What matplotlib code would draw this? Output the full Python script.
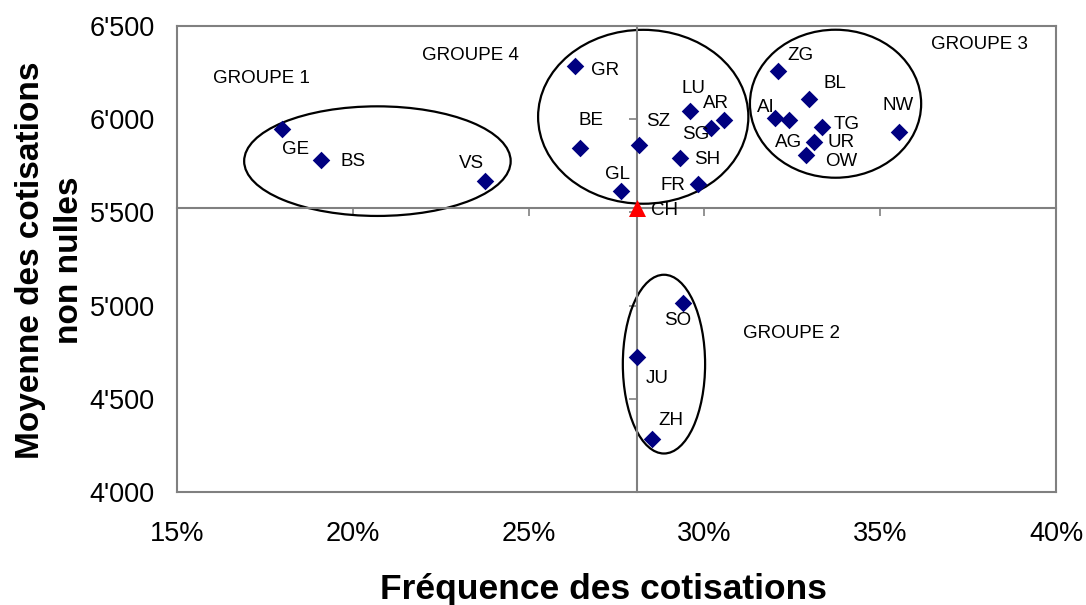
import matplotlib
matplotlib.use("Agg")
import matplotlib.pyplot as plt
from matplotlib.patches import Ellipse
from matplotlib.ticker import FuncFormatter, MultipleLocator

plt.rcParams['font.family'] = ['Liberation Sans', 'DejaVu Sans']

# data
cantons = ['GE', 'BS', 'VS', 'GR', 'BE', 'SZ', 'GL', 'LU', 'SG', 'AR', 'SH', 'FR',
           'ZG', 'BL', 'AI', 'AG', 'TG', 'UR', 'OW', 'NW', 'SO', 'JU', 'ZH']
frequence = [0.1798, 0.1909, 0.2377, 0.2632, 0.2646, 0.2814, 0.2764, 0.2960, 0.3020,
             0.3056, 0.2931, 0.2982, 0.3210, 0.3297, 0.3201, 0.3240, 0.3334, 0.3313,
             0.3289, 0.3554, 0.2940, 0.2808, 0.2852]
moyenne = [5945, 5779, 5668, 6287, 5847, 5861, 5615, 6043, 5953, 5998, 5793, 5651,
           6257, 6109, 6007, 5998, 5959, 5879, 5807, 5932, 5012, 4724, 4285]
ch_frequence = 0.2808
ch_moyenne = 5526

# label offsets in pixels (dx right, dy down)
label_offsets = {
    'GE': (14, 20), 'BS': (32, 1), 'VS': (-14, -18), 'GR': (30, 5), 'BE': (11, -27),
    'SZ': (19, -24), 'GL': (-4, -16), 'LU': (3, -23), 'SG': (-16, 7), 'AR': (-8, -16),
    'SH': (27, 2), 'FR': (-25, 1), 'ZG': (22, -16), 'BL': (26, -15), 'AI': (-9, -10),
    'AG': (0, 23), 'TG': (25, -2), 'UR': (27, 1), 'OW': (35, 6), 'NW': (-1, -26),
    'SO': (-6, 17), 'JU': (20, 21), 'ZH': (19, -18), 'CH': (28, 3),
}

# groups: label, label position, ellipse centre and size
groupes = ['GROUPE 1', 'GROUPE 4', 'GROUPE 3', 'GROUPE 2']
groupe_label_xy = [(0.1603, 6221), (0.2197, 6342), (0.3645, 6399), (0.3109, 4849)]
groupe_centres = [(0.2070, 5775), (0.2826, 6013), (0.3373, 6083), (0.2885, 4686)]
groupe_sizes = [(0.0758, 588), (0.0598, 933), (0.0487, 794), (0.0234, 959)]

fig = plt.figure(figsize=(10.86, 6.05), dpi=100)
rect = [177 / 1086, 1 - 492 / 605, (1056 - 177) / 1086, (492 - 26) / 605]
ax = fig.add_axes(rect)

ax.set_xlim(0.15, 0.40)
ax.set_ylim(4000, 6500)
ax.xaxis.set_major_locator(MultipleLocator(0.05))
ax.yaxis.set_major_locator(MultipleLocator(500))
ax.xaxis.set_major_formatter(FuncFormatter(lambda v, p: f"{v * 100:.0f}%"))
ax.yaxis.set_major_formatter(FuncFormatter(lambda v, p: f"{v:,.0f}".replace(',', "'")))
ax.tick_params(length=0, labelsize=19.5)
ax.tick_params(axis='y', pad=16)
ax.tick_params(axis='x', pad=21)
for s in ax.spines.values():
    s.set_color('#808080')
    s.set_linewidth(1.5)

# crossing axes through CH with tick marks
ax2 = fig.add_axes(rect, sharex=ax, sharey=ax)
ax2.patch.set_visible(False)
ax2.spines['top'].set_visible(False)
ax2.spines['right'].set_visible(False)
ax2.spines['left'].set_position(('data', ch_frequence))
ax2.spines['bottom'].set_position(('data', ch_moyenne))
for side in ['left', 'bottom']:
    ax2.spines[side].set_color('#808080')
    ax2.spines[side].set_linewidth(1.5)
ax2.tick_params(labelleft=False, labelbottom=False, direction='out', length=5.5,
                width=1.2, color='#808080')

ax2.scatter(frequence, moyenne, marker='D', s=80, color='#000080', zorder=3,
            linewidths=0)
ax2.scatter([ch_frequence], [ch_moyenne], marker='^', s=150, color='#ff0000',
            zorder=4, linewidths=0)

for name, x, y in zip(cantons + ['CH'], frequence + [ch_frequence], moyenne + [ch_moyenne]):
    dx, dy = label_offsets[name]
    ax2.annotate(name, (x, y), xytext=(dx, -dy), textcoords='offset pixels',
                 ha='center', va='center', fontsize=13.5)

for name, (lx, ly), (cx, cy), (w, h) in zip(groupes, groupe_label_xy, groupe_centres, groupe_sizes):
    ax2.add_patch(Ellipse((cx, cy), w, h, fill=False, edgecolor='black', linewidth=1.6,
                          zorder=2))
    ax2.text(lx, ly, name, ha='left', va='center', fontsize=13.5)

fig.text(604 / 1086, 1 - 589 / 605, 'Fréquence des cotisations', ha='center',
         va='center', fontsize=25.5, fontweight='bold')
fig.text(50 / 1086, 1 - 260 / 605, 'Moyenne des cotisations\nnon nulles', ha='center',
         va='center', rotation=90, fontsize=24, fontweight='bold', linespacing=1.3,
         multialignment='center')

fig.savefig('out.png', dpi=100)
